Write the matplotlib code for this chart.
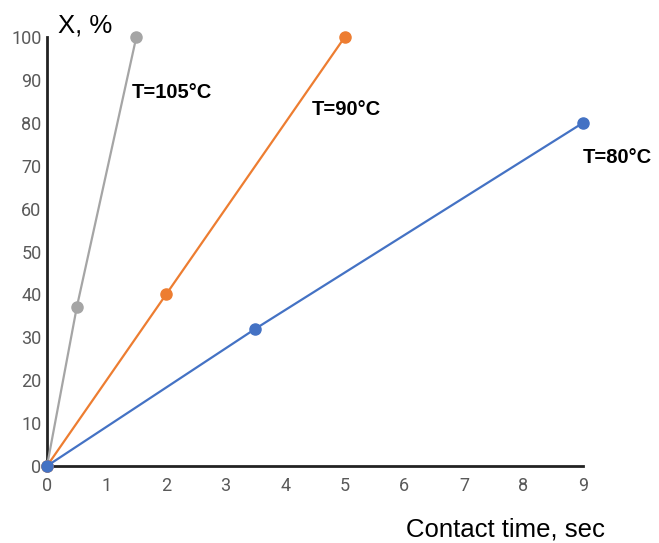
import matplotlib
matplotlib.use("Agg")
import matplotlib.pyplot as plt

# data
time_105 = [0, 0.5, 1.5]
conv_105 = [0, 37, 100]
time_90 = [0, 2, 5]
conv_90 = [0, 40, 100]
time_80 = [0, 3.5, 9]
conv_80 = [0, 32, 80]

x_ticks = list(range(0, 10))
y_ticks = list(range(0, 101, 10))

plt.rcParams["font.family"] = ["Roboto", "DejaVu Sans"]

fig = plt.figure(figsize=(6.59, 5.43), dpi=100)
ax = fig.add_axes([0.0713, 0.1418, 0.8134, 0.790])

series = [
    (time_105, conv_105, "#A5A5A5"),
    (time_90, conv_90, "#ED7D31"),
    (time_80, conv_80, "#4472C4"),
]
for xs, ys, color in series:
    ax.plot(xs, ys, color=color, linewidth=1.6, marker="o", markersize=8,
            clip_on=False, zorder=3)

ax.set_xlim(0, 9)
ax.set_ylim(0, 100)
ax.set_xticks(x_ticks)
ax.set_yticks(y_ticks)
ax.tick_params(axis="y", length=0, labelsize=13, labelcolor="#595959", pad=4)
ax.tick_params(axis="x", length=0, labelsize=13, labelcolor="#595959", pad=8)
ax.spines[["top", "right"]].set_visible(False)
for side in ("left", "bottom"):
    ax.spines[side].set_linewidth(2)
    ax.spines[side].set_color("#222222")

label_font = dict(fontsize=14.5, fontweight="bold", family=["Liberation Sans", "DejaVu Sans"])
ax.text(1.42, 87, "T=105°C", ha="left", va="center", **label_font)
ax.text(4.45, 83, "T=90°C", ha="left", va="center", **label_font)
ax.text(9.0, 72, "T=80°C", ha="left", va="center", clip_on=False, **label_font)

fig.text(58 / 659, 1 - 26 / 543, "X, %", fontsize=18.5, ha="left", va="center",
         family=["Liberation Sans", "DejaVu Sans"])
fig.text(605 / 659, 1 - 529 / 543, "Contact time, sec", fontsize=18.5, ha="right",
         va="center", family=["Liberation Sans", "DejaVu Sans"])

fig.savefig("out.png", dpi=100)
